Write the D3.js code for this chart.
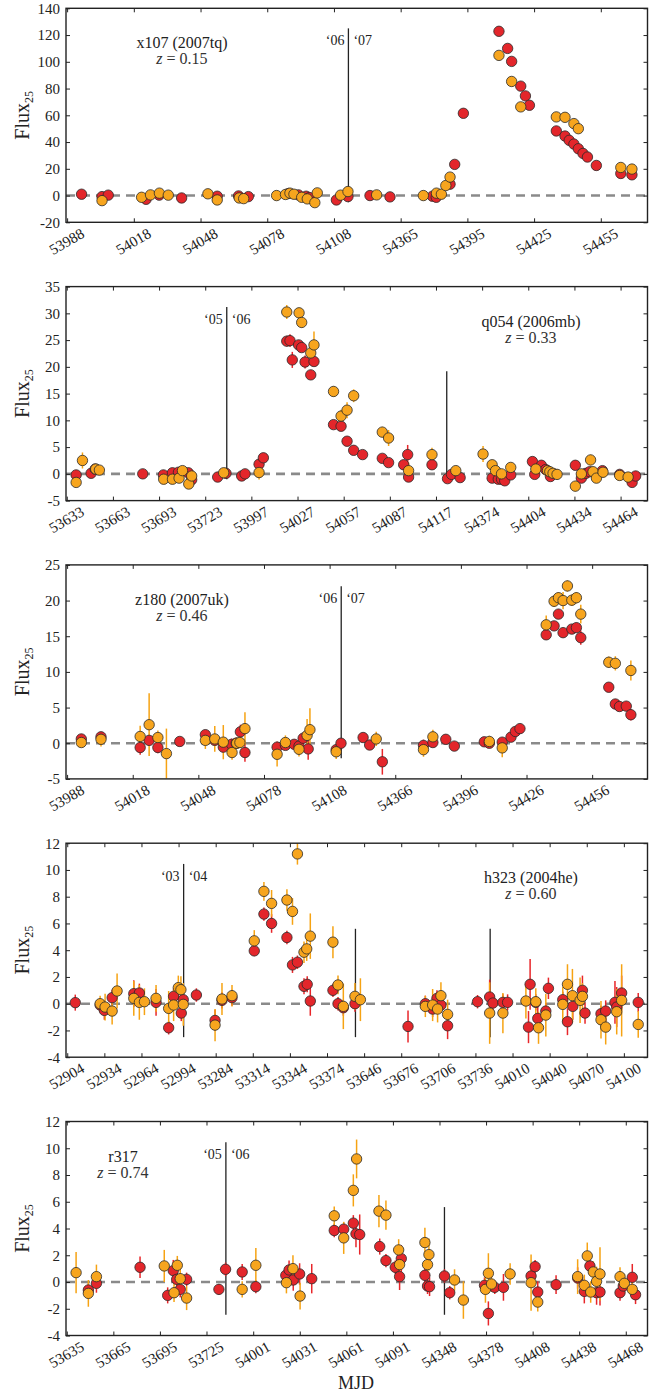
<!DOCTYPE html>
<html>
<head>
<meta charset="utf-8">
<script src="https://cdn.jsdelivr.net/npm/d3@7"></script>
<style>
  body { margin: 0; background: #fff; }
  svg, svg text { font-family: "Liberation Serif", "DejaVu Serif", serif; }
</style>
</head>
<body>
<svg id="chart" width="660" height="1394"></svg>
<script>
// ---- data: [MJD, flux, error] ----
const p1Ticks = [53988, 54018, 54048, 54078, 54108, 54365, 54395, 54425, 54455];
const p1Segments = [[53987.5, 54114.5], [54341.5, 54476]];
const p1Red = [
  [53994.5, 1.0, 1.5], [54003.7, -0.8, 1.5], [54006.5, 0.3, 1.5], [54023.5, -2.8, 1.5],
  [54029.4, 0.3, 1.5], [54039.5, -1.8, 1.5], [54055.5, -0.5, 1.5], [54065.1, -0.3, 1.5],
  [54069.5, -0.8, 1.5], [54087.5, 1.5, 1.5], [54092, 0.5, 1.5], [54095.5, -0.5, 1.5],
  [54097, -1.5, 1.5], [54109.1, -3.3, 1.5], [54114.3, -0.8, 1.5], [54351.2, 0, 1.5],
  [54360.2, -1, 1.5], [54379.3, -0.5, 1.5], [54381, -1.3, 1.5], [54387.2, 8.5, 1.5],
  [54389.3, 23.3, 1.5], [54393.2, 61.5, 1.5], [54409.2, 122.8, 2], [54413.1, 110, 2],
  [54414.9, 100.3, 2], [54419, 81.8, 2], [54421.1, 74.5, 2], [54422.9, 67.5, 2],
  [54435, 48.3, 2], [54438.9, 44.5, 2], [54440.8, 41.3, 2], [54442.9, 38.5, 2],
  [54444.9, 35, 2], [54447, 31.5, 2], [54449, 28.8, 2], [54453, 22.5, 2],
  [54464, 16.5, 2], [54469, 15.5, 2]
];
const p1Orange = [
  [54003.7, -3.8, 1.5], [54021.5, -1.3, 1.5], [54025.5, 0.5, 1.5], [54029.5, 1.8, 1.5],
  [54033.5, 0.3, 1.5], [54051.3, 1.3, 1.5], [54055.5, -3.3, 1.5], [54065.4, -1.8, 1.5],
  [54067.4, -2.3, 1.5], [54082.2, 0, 1.5], [54086.2, 0.8, 1.5], [54088.2, 1.8, 1.5],
  [54090, 1.0, 1.5], [54093.5, -1.3, 1.5], [54096, -2.5, 1.5], [54099.4, -5.3, 1.5],
  [54100.5, 2.0, 1.5], [54111, 0.3, 1.5], [54114.3, 3, 1.5], [54354.2, 0.5, 1.5],
  [54375.2, 0, 1.5], [54381.1, 1.8, 1.5], [54383.3, 1, 1.5], [54385.3, 7.5, 1.5],
  [54387.2, 13.8, 1.5], [54409.2, 104.8, 2], [54414.9, 85.3, 2], [54419, 66.3, 2],
  [54435, 58.8, 2], [54438.9, 58.5, 2], [54442.9, 53.8, 2], [54444.9, 50, 2],
  [54464, 21, 2], [54469, 19.8, 2]
];

const p2Ticks = [53633, 53663, 53693, 53723, 53997, 54027, 54057, 54087, 54117, 54374, 54404, 54434, 54464];
const p2Segments = [[53632.5, 53737], [53981, 54124], [54351, 54481.5]];
const p2Red = [
  [53639.1, -0.2, 0.5], [53648.8, 0.1, 0.8], [53651.5, 0.9, 0.5], [53682.4, 0, 0.9],
  [53695.8, -0.2, 0.6], [53701.7, 0.2, 0.6], [53705.6, 0.3, 0.6], [53712, 0.2, 0.6],
  [53714.2, -1.1, 0.6], [53731.1, -0.6, 0.5], [53736.5, 0.1, 0.5], [53990.7, -0.4, 0.6],
  [53992.9, 0, 0.5], [54002, 1.8, 0.6], [54004.8, 3.0, 0.5], [54020, 24.8, 1],
  [54022.1, 24.9, 1.2], [54023.6, 21.3, 1.5], [54027.7, 24.1, 0.6], [54029.7, 23.6, 0.6],
  [54031.9, 20.9, 1.2], [54035.6, 18.5, 0.6], [54037.7, 21, 0.8], [54050.4, 9.2, 0.6],
  [54055.3, 8.9, 0.6], [54059.2, 6.1, 0.6], [54063.5, 4.4, 0.6], [54069.3, 3.6, 0.5],
  [54082.1, 2.9, 0.6], [54086.2, 2.1, 0.6], [54096, 1.7, 0.8], [54098.6, 3.6, 1.8],
  [54099.2, -0.6, 0.8], [54114.4, 1.7, 0.6], [54351.5, -0.9, 0.6], [54354.1, -0.1, 0.6],
  [54359.7, -0.7, 0.6], [54380.5, -0.8, 0.6], [54384.5, -1.0, 0.6], [54386.6, -1, 0.6],
  [54388.7, -1.3, 0.6], [54392.6, -0.2, 0.6], [54406.7, 2.3, 0.6], [54408.2, -0.1, 0.6],
  [54412.5, 1.6, 0.6], [54415.3, 0.8, 0.6], [54418.4, -0.5, 0.6], [54434.6, 1.6, 0.6],
  [54438.5, -0.8, 0.6], [54441.5, 0.1, 0.6], [54443.9, 0.4, 0.6], [54452.2, 0.6, 0.6],
  [54463.4, -0.1, 0.5], [54471.5, -1.6, 0.6], [54473.8, -0.4, 0.6]
];
const p2Orange = [
  [53639.1, -1.6, 0.6], [53643.2, 2.5, 1.5], [53651.8, 0.9, 0.6], [53654.2, 0.7, 0.6],
  [53696, -1, 0.6], [53701.7, -1, 0.6], [53706, -0.8, 0.6], [53708.2, 0.6, 0.6],
  [53712.3, -1.9, 0.6], [53714.2, -0.4, 0.7], [53735, 0.2, 0.6], [54002, 0.25, 1.3],
  [54020, 30.25, 1.3], [54028, 30.1, 0.8], [54029.7, 28.3, 1], [54035.6, 22.6, 1],
  [54037.7, 24.1, 2.5], [54050.4, 15.4, 1], [54055.3, 10.8, 1.2], [54059.2, 11.9, 1.5],
  [54063.5, 14.6, 1.2], [54082.1, 7.8, 1], [54086.2, 6.7, 1.5], [54099.2, 0.6, 1.5],
  [54114.4, 3.6, 1.3], [54356.9, 0.6, 0.8], [54374.6, 3.7, 1.5], [54380.5, 1.7, 0.7],
  [54382.7, 0.6, 0.7], [54386.6, 0, 0.7], [54392.6, 1.2, 0.7], [54408.9, 0.9, 0.8],
  [54416.5, 0.6, 0.7], [54418, 0.4, 0.8], [54420.1, 0.1, 0.7], [54422.7, -0.1, 1],
  [54434.6, -2.3, 1], [54438.5, 0, 0.8], [54444.5, 2.6, 1], [54446.1, 0.4, 0.8],
  [54448.3, -0.8, 0.8], [54452.6, 0.3, 1], [54463.4, -0.3, 0.6], [54468.9, -0.6, 0.6]
];

const p3Ticks = [53988, 54018, 54048, 54078, 54108, 54366, 54396, 54426, 54456];
const p3Segments = [[53987.5, 54113.3], [54341.3, 54481.3]];
const p3Red = [
  [53994.5, 0.6, 0.5], [54003.5, 0.9, 0.5], [54021.4, -0.6, 1], [54025.5, 0.4, 0.8],
  [54029.5, -0.6, 0.8], [54039.5, 0.25, 0.6], [54051.2, 1.2, 0.6], [54055.5, 0.4, 0.7],
  [54059.4, -0.55, 0.8], [54063.2, -0.15, 0.8], [54065.3, 0.0, 0.8], [54067.2, 1.6, 1],
  [54069.3, -1.3, 1.3], [54084, -0.55, 0.8], [54087.8, -0.3, 0.6], [54091.8, -0.15, 0.6],
  [54094, -0.4, 0.6], [54095.9, 0.7, 0.8], [54098.2, -0.8, 1.5], [54111, -0.9, 0.6],
  [54113.2, 0, 0.6], [54351.3, 0.8, 0.6], [54354.3, -0.25, 0.6], [54360.1, -2.6, 1.8],
  [54378.9, -0.3, 0.8], [54383.2, 0.1, 0.6], [54389.1, 0.55, 0.6], [54393, -0.4, 0.6],
  [54406.7, 0.2, 0.6], [54409, 0, 0.6], [54414.9, 0.15, 0.6], [54418.9, 0.85, 0.6],
  [54420.9, 1.65, 0.6], [54423, 2.05, 0.6], [54435, 15.2, 0.7], [54438.6, 16.45, 0.7],
  [54440.6, 18.1, 0.7], [54442.7, 15.5, 0.7], [54446.7, 16, 0.7], [54448.8, 16.2, 0.7],
  [54450.8, 14.8, 1], [54463.6, 7.85, 0.6], [54466.6, 5.5, 0.6], [54468.5, 5.15, 0.6],
  [54471.6, 5.2, 0.6], [54473.7, 4.0, 0.8]
];
const p3Orange = [
  [53994.5, 0.1, 0.6], [54003.5, 0.55, 1], [54021.4, 0.95, 1.5], [54025.5, 2.6, 4.4],
  [54029.5, 0.8, 1], [54033.4, -1.45, 3.5], [54051.2, 0.4, 1.2], [54055.5, 0.6, 1.8],
  [54059.4, 0.15, 2.4], [54063.4, -1.3, 1], [54065.5, 0, 0.8], [54067, 0.1, 0.8],
  [54069.3, 2.05, 2.3], [54084, -1.55, 1.7], [54087.8, 0.1, 1], [54094, -0.85, 1],
  [54097.7, 1.1, 2.3], [54099, 1.9, 3], [54111, -1.2, 1], [54357.3, 0.6, 1],
  [54378.9, -0.9, 1], [54383.2, 0.9, 1], [54409, 0.25, 0.8], [54414.9, -0.65, 1.3],
  [54435, 16.6, 1.3], [54438.6, 19.9, 0.8], [54440.6, 20.4, 0.8], [54442.7, 20, 1.2],
  [54444.7, 22.05, 0.8], [54446.7, 20.05, 0.8], [54448.8, 20.4, 0.8], [54450.8, 18.1, 1.3],
  [54463.6, 11.35, 0.8], [54466.6, 11.2, 1], [54473.7, 10.2, 1.4]
];

const p4Ticks = [52904, 52934, 52964, 52994, 53284, 53314, 53344, 53374, 53646, 53676, 53706, 53736, 54010, 54040, 54070, 54100];
const p4Segments = [[52903, 52998.1], [53258.1, 53397], [53639, 53747.9], [53991.9, 54119.1]];
const p4Red = [
  [52910.5, 0.08, 0.6], [52930.6, -0.1, 0.5], [52934, -0.5, 0.7], [52940.3, 0.45, 0.6],
  [52957.8, 0.75, 1], [52962.3, 0.8, 0.7], [52975.8, 0.1, 1], [52986, -1.8, 0.5],
  [52990, 0.55, 0.6], [52996.2, -0.7, 0.6], [52997.8, 0.3, 0.6], [53268.4, 0.65, 0.5],
  [53283.5, -1.25, 0.8], [53289.1, 0.25, 0.6], [53297.2, 0.45, 0.6], [53315.2, 3.95, 0.4],
  [53323, 6.7, 0.5], [53329.2, 6, 0.7], [53341.6, 4.95, 0.5], [53346.1, 2.9, 0.6],
  [53350.1, 3.1, 0.5], [53355.4, 1.3, 0.6], [53358, 1.45, 0.6], [53360.5, 0.2, 1.1],
  [53378.8, 1, 0.5], [53382.9, 0, 0.5], [53387.2, -0.3, 0.6], [53396.6, 0, 0.6],
  [53681.5, -1.7, 1.2], [53695.5, 0, 0.6], [53701.4, -0.4, 0.6], [53704.9, 0.4, 0.6],
  [53708.1, -0.1, 0.6], [53713.5, -1.65, 1], [53737.7, 0.15, 0.5], [53747.5, 0.5, 1.3],
  [53994.1, 0.05, 0.6], [54002.2, 0.1, 0.6], [54006, 0.1, 0.6], [54022.9, -1.75, 1.2],
  [54024.2, 1.45, 1.9], [54028.8, 0.1, 0.6], [54030.4, -1.1, 0.9], [54036.9, -0.55, 0.6],
  [54039, 1.15, 0.8], [54050.6, 0.3, 0.6], [54054.4, -1.35, 1], [54058.7, -0.2, 1],
  [54066.5, 1, 1.1], [54068.6, -0.7, 0.8], [54081.5, -0.75, 0.6], [54085.3, -0.55, 0.8],
  [54092.8, 0.1, 1.6], [54094.2, -0.25, 1.5], [54098.2, 0.8, 1.3], [54111.6, 0.1, 0.7]
];
const p4Orange = [
  [52930.6, 0, 0.6], [52934.6, -0.25, 1], [52940.3, -0.55, 1], [52944.3, 0.95, 1.3],
  [52957.8, 0.4, 1.3], [52962.3, 0.1, 1.3], [52966.4, 0.15, 1], [52975.8, 0.4, 1],
  [52986, -0.35, 1.3], [52990, -0.1, 1.2], [52993.8, 1.2, 0.9], [52995.9, 1.05, 1],
  [52997.8, -0.05, 1.6], [53283.5, -1.6, 1.2], [53289.1, 0.35, 1.2], [53297.2, 0.6, 0.8],
  [53315.2, 4.7, 0.8], [53323, 8.4, 0.7], [53329.2, 7.5, 1], [53341.6, 7.75, 0.8],
  [53346.1, 6.9, 1], [53350.1, 11.2, 0.8], [53355.4, 3.85, 0.8], [53357.6, 4.1, 0.9],
  [53360.5, 5.05, 1.7], [53378.8, 4.6, 1.2], [53382.9, 1.4, 0.7], [53387.2, -0.2, 1.7],
  [53396.6, 0.55, 1], [53643, 0.3, 1.6], [53695.5, -0.2, 0.8], [53701.4, -0.1, 1.2],
  [53705.4, -0.4, 1], [53708.1, 0.6, 1], [53713.5, -0.8, 1.1], [53747.5, -0.7, 2.3],
  [54002.2, -0.7, 1.5], [54020.8, 0.2, 1.3], [54028.8, 0.15, 1], [54031, -1.8, 1.2],
  [54036.9, -0.85, 1.6], [54050.6, -0.05, 1.3], [54054.4, 1.45, 1.5], [54058.4, 0.6, 2],
  [54064.6, 0.25, 1.7], [54066.5, 0.55, 1], [54081.5, -1.2, 1.4], [54085.3, -1.75, 1.3],
  [54094.2, -0.6, 1.7], [54098.2, 0.25, 2.7], [54111.6, -1.55, 1]
];

const p5Ticks = [53635, 53665, 53695, 53725, 54001, 54031, 54061, 54091, 54348, 54378, 54408, 54438, 54468];
const p5Segments = [[53634.5, 53737.5], [53983.4, 54118.9], [54345.9, 54482]];
const p5Red = [
  [53648.9, -0.6, 0.5], [53654.1, -0.1, 0.7], [53682.2, 1.1, 0.8], [53700, -1, 0.6],
  [53703.6, 0.85, 0.8], [53705.8, 0.2, 0.6], [53708.1, -0.55, 0.6], [53712.2, 0.2, 0.5],
  [53733, -0.55, 0.4], [53737.3, 0.95, 0.5], [53993.9, 0.75, 0.6], [54002.7, -0.35, 0.5],
  [54022, 0.5, 0.6], [54024.1, 0.9, 0.7], [54026.8, 0.15, 0.8], [54030.9, 0.6, 0.8],
  [54038.7, 0.25, 1.1], [54053.2, 3.85, 0.5], [54059.3, 3.95, 0.5], [54065.5, 4.4, 0.6],
  [54067.2, 3.6, 1], [54069.6, 3.55, 1.5], [54082.5, 2.65, 0.6], [54086.5, 1.6, 0.5],
  [54092.5, 1.1, 0.5], [54095.3, 0.4, 1], [54096.4, 1.75, 1], [54111.6, 0.5, 0.6],
  [54113.3, -0.3, 0.6], [54114.6, -0.35, 0.7], [54351.2, 0.45, 0.5], [54354.6, -0.8, 0.5],
  [54377, -0.25, 0.6], [54379.5, -2.35, 0.9], [54383.6, -0.4, 0.5], [54389.2, -0.4, 1],
  [54407, 0.45, 0.9], [54409.6, 1.15, 0.5], [54411.3, -0.75, 0.8], [54423.1, -0.2, 0.7],
  [54437, 0.3, 0.8], [54441.3, -0.7, 0.9], [54444.9, 1.2, 0.7], [54449.2, -0.8, 0.9],
  [54451.4, -0.75, 1], [54464.3, -0.8, 0.6], [54466.4, -0.3, 0.6], [54472.2, 0.35, 1],
  [54474.3, -0.95, 0.7]
];
const p5Orange = [
  [53641, 0.7, 1.55], [53648.9, -0.85, 1], [53654.1, 0.4, 0.9], [53697.8, 1.2, 1.2],
  [53704.1, -0.8, 0.7], [53706.2, 1.25, 0.7], [53708.1, 0.25, 1], [53712.2, -1.2, 0.9],
  [53993.9, -0.55, 0.6], [54002.7, 1.25, 1.3], [54022.4, -0.05, 0.8], [54026.6, 1, 1],
  [54031.2, -1.05, 1], [54053.2, 4.95, 0.7], [54059.3, 3.3, 1.2], [54065.5, 6.85, 1.2],
  [54067.6, 9.2, 1.45], [54082, 5.3, 1.2], [54086.5, 5, 1.1], [54094.7, 2.4, 0.8],
  [54095.3, 1.3, 0.8], [54111.6, 2.95, 1.1], [54113.3, 1.3, 1], [54114.2, 2.05, 1.2],
  [54357.7, 0.15, 0.8], [54363.4, -1.35, 1.4], [54377.6, -0.55, 1], [54379.5, 0.65, 1.5],
  [54381.5, -0.15, 0.6], [54393.5, 0.6, 0.8], [54407, -0.05, 2.1], [54411.3, -1.5, 0.7],
  [54437, 0.4, 1.3], [54441.3, -0.25, 0.8], [54443.2, 1.95, 1], [54445.4, -0.75, 0.8],
  [54447.1, 0.75, 0.8], [54449.2, 0.05, 1.1], [54451.4, 0.6, 2], [54464.3, 0.4, 0.7],
  [54467.1, -0.1, 0.7], [54472.2, -0.55, 0.7]
];

// season separators: [MJD, top flux, bottom flux, left label, right label]
const p1Seps = [[54114.5, 125, -5, "\u201806", "\u201807"]];
const p2Seps = [[53737, 31.2, -1, "\u201805", "\u201806"], [54124, 19.2, -1]];
const p3Seps = [[54113.3, 22, -2.1, "\u201806", "\u201807"]];
const p4Seps = [[52998.1, 10.45, -2.5, "\u201803", "\u201804"], [53397, 5.6, -2.5], [53747.9, 5.6, -2.5]];
const p5Seps = [[53737.5, 10.45, -2.45, "\u201805", "\u201806"], [54351.2, 5.6, -2.45]];

const yDomains = [[-20, 140], [-5, 35], [-5, 25], [-4, 12], [-4, 12]];
const yTicks = [d3.range(-20, 141, 20), d3.range(-5, 36, 5), d3.range(-5, 26, 5), d3.range(-4, 13, 2), d3.range(-4, 13, 2)];
const names = ["x107 (2007tq)", "q054 (2006mb)", "z180 (2007uk)", "h323 (2004he)", "r317"];
const redshifts = ["0.15", "0.33", "0.46", "0.60", "0.74"];

const panels = [
  { ticks: p1Ticks, segs: p1Segments, red: p1Red, orange: p1Orange, seps: p1Seps, lx: 182 },
  { ticks: p2Ticks, segs: p2Segments, red: p2Red, orange: p2Orange, seps: p2Seps, lx: 531 },
  { ticks: p3Ticks, segs: p3Segments, red: p3Red, orange: p3Orange, seps: p3Seps, lx: 182 },
  { ticks: p4Ticks, segs: p4Segments, red: p4Red, orange: p4Orange, seps: p4Seps, lx: 531 },
  { ticks: p5Ticks, segs: p5Segments, red: p5Red, orange: p5Orange, seps: p5Seps, lx: 123 }
];

const RED = "#e3262b", ORANGE = "#f7a51e";
const RED_ERR = "#e8262a", ORANGE_ERR = "#f6a313";
const FONT = "Liberation Serif, DejaVu Serif, serif";

const svg = d3.select("#chart").attr("font-family", FONT);
const left = 66, right = 647.5, plotH = 214, top0 = 8.3, pitch = 278.3;
const width = right - left;

// broken x axis: every season gets the same days-per-pixel
function brokenScale(segs) {
  const total = d3.sum(segs, s => s[1] - s[0]);
  const domain = [], range = [];
  let pos = 0;
  segs.forEach(s => {
    domain.push(s[0], s[1]);
    range.push(pos, pos + (s[1] - s[0]) / total * width);
    pos += (s[1] - s[0]) / total * width;
  });
  return d3.scaleLinear().domain(domain).range(range);
}

panels.forEach((p, i) => {
  const g = svg.append("g").attr("transform", `translate(${left},${top0 + i * pitch})`);
  const x = brokenScale(p.segs);
  const y = d3.scaleLinear().domain(yDomains[i]).range([plotH, 0]);

  // zero line
  g.append("line")
    .attr("x1", 0).attr("x2", width)
    .attr("y1", y(0)).attr("y2", y(0))
    .attr("stroke", "#8a8a8a").attr("stroke-width", 2.6)
    .attr("stroke-dasharray", "9,6");

  // separators
  p.seps.forEach(s => {
    g.append("line")
      .attr("x1", x(s[0])).attr("x2", x(s[0]))
      .attr("y1", y(s[1])).attr("y2", y(s[2]))
      .attr("stroke", "#222").attr("stroke-width", 1.3);
    if (s[3]) {
      g.append("text").attr("x", x(s[0]) - 4).attr("y", y(s[1]) + 17)
        .attr("text-anchor", "end").attr("font-size", 14).attr("fill", "#222").text(s[3]);
      g.append("text").attr("x", x(s[0]) + 5).attr("y", y(s[1]) + 17)
        .attr("text-anchor", "start").attr("font-size", 14).attr("fill", "#222").text(s[4]);
    }
  });

  // points with error bars
  [[p.red, RED_ERR], [p.orange, ORANGE_ERR]].forEach(([data, errCol]) => {
    g.append("g").selectAll("line")
      .data(data).enter().append("line")
      .attr("x1", d => x(d[0])).attr("x2", d => x(d[0]))
      .attr("y1", d => y(d[1] - d[2])).attr("y2", d => y(d[1] + d[2]))
      .attr("stroke", errCol).attr("stroke-width", 1.5);
  });
  [[p.red, RED], [p.orange, ORANGE]].forEach(([data, fill]) => {
    g.append("g").selectAll("circle")
      .data(data).enter().append("circle")
      .attr("cx", d => x(d[0])).attr("cy", d => y(d[1]))
      .attr("r", 5.2)
      .attr("fill", fill).attr("stroke", "#2a2a2a").attr("stroke-width", 0.8);
  });

  // axes, ticks pointing inwards
  const xb = g.append("g").attr("transform", `translate(0,${plotH})`)
    .call(d3.axisBottom(x).tickValues(p.ticks).tickSizeInner(-4).tickSizeOuter(0).tickFormat(d => String(d)));
  xb.selectAll(".tick text")
    .attr("y", 0).attr("dy", "0.35em")
    .attr("text-anchor", "middle")
    .attr("transform", "translate(-1,19) rotate(-30)");
  g.append("g")
    .call(d3.axisTop(x).tickValues(p.ticks).tickSizeInner(-4).tickSizeOuter(0).tickFormat(""));
  g.append("g")
    .call(d3.axisLeft(y).tickValues(yTicks[i]).tickSizeInner(-4).tickSizeOuter(0).tickPadding(6).tickFormat(d => String(d)));
  g.append("g").attr("transform", `translate(${width},0)`)
    .call(d3.axisRight(y).tickValues(yTicks[i]).tickSizeInner(-4).tickSizeOuter(0).tickFormat(""));
  g.selectAll(".domain").remove();
  g.selectAll("g").attr("font-family", FONT);
  g.selectAll(".tick line").attr("stroke", "#222");
  g.selectAll(".tick text").attr("font-size", 15).attr("fill", "#222");

  // frame
  g.append("rect").attr("width", width).attr("height", plotH)
    .attr("fill", "none").attr("stroke", "#222").attr("stroke-width", 1.4);

  // y label
  const yl = svg.append("text")
    .attr("transform", `translate(29,${top0 + i * pitch + plotH / 2}) rotate(-90)`)
    .attr("text-anchor", "middle").attr("font-size", 20).attr("fill", "#222");
  yl.append("tspan").text("Flux");
  yl.append("tspan").attr("font-size", 12).attr("dy", 4).text("25");

  // SN name and redshift
  const lx = p.lx - left;
  g.append("text").attr("x", lx).attr("y", 40)
    .attr("text-anchor", "middle").attr("font-size", 16).attr("fill", "#222").text(names[i]);
  const zt = g.append("text").attr("x", lx).attr("y", 56)
    .attr("text-anchor", "middle").attr("font-size", 16).attr("fill", "#333");
  zt.append("tspan").attr("font-style", "italic").text("z");
  zt.append("tspan").text(" = " + redshifts[i]);
});

svg.append("text")
  .attr("x", 356).attr("y", 1389)
  .attr("text-anchor", "middle").attr("font-size", 18).attr("fill", "#222")
  .text("MJD");
</script>
</body>
</html>
